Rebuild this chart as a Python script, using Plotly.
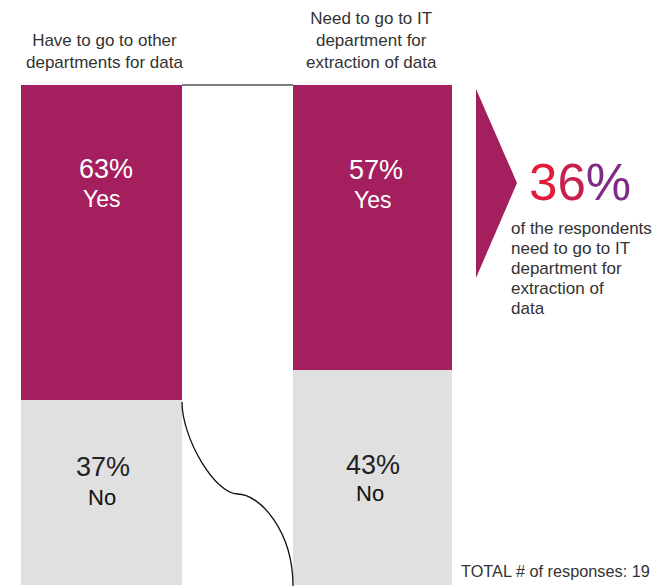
import plotly.graph_objects as go

# ---- data ----
categories = ["Have to go to other<br>departments for data",
              "Need to go to IT<br>department for<br>extraction of data"]
yes_pct = [63, 57]
no_pct = [37, 43]
yes_label = "Yes"
no_label = "No"
highlight_pct = 36
highlight_lines = ["of the respondents", "need to go to IT", "department for",
                   "extraction of", "data"]
total_responses = 19

MAGENTA = "#A41F5E"
GREY = "#E0E0E0"
TXT = "#333333"
FONT = "Liberation Sans, Arial, Helvetica, sans-serif"

W, H = 668, 586
# axis ranges (x: category index, y: percent)
X_RANGE = [-101.5 / 271, (W - 101.5) / 271]
Y_RANGE = [-0.2, 117]


def px2x(p):
    return X_RANGE[0] + p / W * (X_RANGE[1] - X_RANGE[0])


def px2y(p):
    return Y_RANGE[1] - p / H * (Y_RANGE[1] - Y_RANGE[0])


def dxu(d):
    return px2x(d) - px2x(0)


xs = [0, 1]
widths = [161 / 271, 159 / 271]

fig = go.Figure()
fig.add_trace(go.Bar(x=xs, y=no_pct, width=widths, marker_color=GREY,
                     marker_line_width=0, hoverinfo="skip", name=no_label))
fig.add_trace(go.Bar(x=xs, y=yes_pct, width=widths, marker_color=MAGENTA,
                     marker_line_width=0, hoverinfo="skip", name=yes_label))

ann = []
# category titles
title_centers = [51, 40]
title_dx = [3, -1]
for i, c in enumerate(categories):
    ann.append(dict(x=xs[i] + dxu(title_dx[i]), y=px2y(title_centers[i]), text=c, showarrow=False,
                    xanchor="center", yanchor="middle",
                    font=dict(family=FONT, size=17, color=TXT)))

# bar labels
yes_pct_y = [169, 170]
yes_lab_y = [199, 200]
no_pct_y = [467, 465]
no_lab_y = [497, 493]
pct_dx = [4, 3]
lab_dx = [0, 0]
no_dx = [0, -3]
for i in range(2):
    ann.append(dict(x=xs[i] + dxu(pct_dx[i]), y=px2y(yes_pct_y[i]), text=f"{yes_pct[i]}%",
                    showarrow=False, font=dict(family=FONT, size=27, color="white")))
    ann.append(dict(x=xs[i] + dxu(lab_dx[i]), y=px2y(yes_lab_y[i]), text=yes_label,
                    showarrow=False, font=dict(family=FONT, size=23, color="white")))
    ann.append(dict(x=xs[i] + dxu(pct_dx[i] - 3), y=px2y(no_pct_y[i]), text=f"{no_pct[i]}%",
                    showarrow=False, font=dict(family=FONT, size=27, color="#222222")))
    ann.append(dict(x=xs[i] + dxu(no_dx[i]), y=px2y(no_lab_y[i]), text=no_label,
                    showarrow=False, font=dict(family=FONT, size=22, color="#111111")))

# highlight number with red->purple gradient per character
hs = f"{highlight_pct}%"
grad = ["#E31B3B", "#C8214F", "#7E2C88"]
htxt = "".join(f"<span style='color:{grad[min(k, 2)]}'>{ch}</span>" for k, ch in enumerate(hs))
ann.append(dict(x=px2x(527), y=px2y(182), text=htxt, showarrow=False,
                xanchor="left", yanchor="middle",
                font=dict(family=FONT, size=51, color=grad[0])))
for j, line in enumerate(highlight_lines):
    ann.append(dict(x=px2x(509), y=px2y(228 + 20.2 * j), text=line, showarrow=False,
                    xanchor="left", yanchor="middle", align="left",
                    font=dict(family=FONT, size=17, color=TXT)))
ann.append(dict(x=px2x(459), y=px2y(571), text=f"TOTAL # of responses: {total_responses}",
                showarrow=False, xanchor="left", yanchor="middle",
                font=dict(family=FONT, size=16.3, color=TXT)))

# connector curve from left bar's Yes/No boundary down to right bar's base
x0 = xs[0] + widths[0] / 2
x1 = xs[1] - widths[1] / 2
y0 = no_pct[0] - 0.4
y1 = Y_RANGE[0]
xm = (x0 + x1) / 2
ym = (y0 + y1) / 2
k = 0.4
path = (f"M {x0},{y0} C {x0},{y0 - k * (y0 - ym)} {xm - k * (xm - x0)},{ym} {xm},{ym} "
        f"C {xm + k * (x1 - xm)},{ym} {x1},{ym - k * (ym - y1)} {x1},{y1}")
shapes = [
    dict(type="path", path=path, xref="x", yref="y", line=dict(color="#111111", width=1.3)),
    dict(type="line", xref="x", yref="y", x0=x0, x1=x1, y0=100, y1=100,
         line=dict(color="#555555", width=1.5)),
    dict(type="path", xref="x", yref="y", fillcolor=MAGENTA, line=dict(width=0),
         path=(f"M {px2x(476)},{px2y(89)} L {px2x(517)},{px2y(183)} "
               f"L {px2x(476)},{px2y(278)} Z")),
]

fig.update_layout(
    width=W, height=H, margin=dict(l=0, r=0, t=0, b=0),
    paper_bgcolor="white", plot_bgcolor="white",
    barmode="stack", showlegend=False,
    xaxis=dict(range=X_RANGE, visible=False, fixedrange=True),
    yaxis=dict(range=Y_RANGE, visible=False, fixedrange=True),
    annotations=ann, shapes=shapes,
)

fig.write_html("out.html")
